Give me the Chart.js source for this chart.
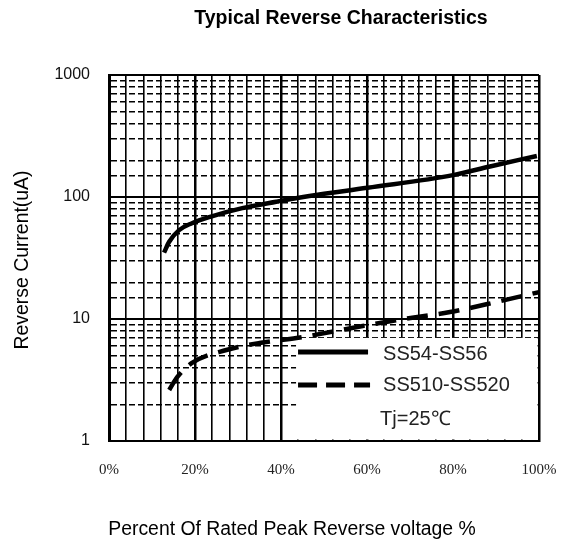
<!DOCTYPE html>
<html>
<head>
<meta charset="utf-8">
<script src="https://cdn.jsdelivr.net/npm/chart.js@4"></script>
<style>
  html, body { margin: 0; padding: 0; background: #fff; }
  #wrap { width: 563px; height: 542px; }
</style>
</head>
<body>
<div id="wrap"><canvas id="chart" width="563" height="542"></canvas></div>
<script>
/* Typical Reverse Characteristics — log current vs % rated voltage */

const seriesNames = ['SS54-SS56', 'SS510-SS520'];

/* SS54-SS56 (solid) */
const pctSolid = [12.8, 14, 16.3, 19.3, 23.3, 31, 38.9, 46.6, 60.1, 80, 88.6, 99.5];
const valSolid = [35, 43, 53.5, 61, 68.5, 81, 91.5, 102, 119, 151, 178, 217];

/* SS510-SS520 (dashed) */
const pctDash = [14, 15.9, 19.3, 27.3, 35, 43.6, 59, 66.9, 79.3, 90.2, 100];
const valDash = [2.62, 3.35, 4.36, 5.57, 6.36, 6.98, 8.77, 9.8, 11.4, 13.8, 16.6];

const yDecades = [1, 10, 100, 1000];
const xLabelTicks = [0, 20, 40, 60, 80, 100];

const SANS = "'Liberation Sans', Arial, sans-serif";
const SERIF = "'Liberation Serif', 'Times New Roman', serif";

function isDecade(v) {
  const l = Math.log10(v);
  return Math.abs(l - Math.round(l)) < 1e-6;
}

function pts(xs, ys) { return xs.map((x, i) => ({ x, y: ys[i] })); }

/* legend box corner, in data units */
const boxPct = 43.5, boxVal = 7.0;

/* Titles and the in-plot legend box */
const decorPlugin = {
  id: 'decor',
  beforeDatasetsDraw(chart) {
    // white box that hides the grid in the lower right
    const a = chart.chartArea;
    const bx = chart.scales.x.getPixelForValue(boxPct);
    const by = chart.scales.y.getPixelForValue(boxVal);
    const c = chart.ctx;
    c.save();
    c.fillStyle = '#fff';
    c.fillRect(bx, by, a.right - 1.5 - bx, a.bottom - 1.5 - by);
    c.restore();
  },
  afterDraw(chart) {
    const c = chart.ctx;
    const bx = chart.scales.x.getPixelForValue(boxPct);
    const by = chart.scales.y.getPixelForValue(boxVal);
    c.save();

    c.strokeStyle = '#000';
    c.lineCap = 'butt';
    c.lineWidth = 5;
    c.setLineDash([]);
    c.beginPath(); c.moveTo(bx + 2, by + 14); c.lineTo(bx + 72, by + 14); c.stroke();
    c.setLineDash([19, 9]);
    c.beginPath(); c.moveTo(bx + 2, by + 47); c.lineTo(bx + 74, by + 47); c.stroke();
    c.setLineDash([]);

    c.fillStyle = '#222';
    c.font = '20px ' + SANS;
    c.textBaseline = 'middle';
    c.textAlign = 'left';
    c.fillText(seriesNames[0], bx + 87, by + 17);
    c.fillText(seriesNames[1], bx + 87, by + 48);
    c.fillText('Tj=25\u2103', bx + 84, by + 82);

    // chart title
    c.fillStyle = '#000';
    c.textAlign = 'center';
    c.font = 'bold 19.5px ' + SANS;
    c.fillText('Typical Reverse Characteristics', 341, 19);

    // x axis title
    c.font = '19.4px ' + SANS;
    c.fillText('Percent Of Rated Peak Reverse voltage %', 292, 530);

    // y axis title
    c.translate(23, 260);
    c.rotate(-Math.PI / 2);
    c.fillText('Reverse Current(uA)', 0, 0);
    c.restore();
  }
};

new Chart(document.getElementById('chart'), {
  type: 'line',
  data: {
    datasets: [
      {
        label: seriesNames[0],
        data: pts(pctSolid, valSolid),
        borderColor: '#000',
        borderWidth: 4.5,
        pointRadius: 0,
        cubicInterpolationMode: 'monotone',
        fill: false
      },
      {
        label: seriesNames[1],
        data: pts(pctDash, valDash),
        borderColor: '#000',
        borderWidth: 4.5,
        borderDash: [21, 11],
        pointRadius: 0,
        cubicInterpolationMode: 'monotone',
        fill: false
      }
    ]
  },
  options: {
    responsive: false,
    animation: false,
    layout: { padding: { top: 75, right: 24, left: 0, bottom: 0 } },
    plugins: {
      legend: { display: false },
      title: { display: false },
      tooltip: { enabled: false }
    },
    scales: {
      x: {
        type: 'linear',
        min: 0, max: 100,
        afterFit: s => { s.height = 101; s.paddingLeft = 0; s.paddingRight = 0; },
        ticks: {
          stepSize: 4,
          autoSkip: false,
          maxRotation: 0,
          padding: 20,
          color: '#222',
          font: { family: SERIF, size: 15 },
          callback: v => xLabelTicks.includes(v) ? v + '%' : ''
        },
        grid: {
          drawTicks: false,
          color: '#000',
          lineWidth: ctx => (ctx.tick && ctx.tick.value % 20 === 0) ? 2.5 : 1.6
        },
        border: { display: true, color: '#000', width: 2 }
      },
      y: {
        type: 'logarithmic',
        min: 1, max: 1000,
        afterFit: s => { s.width = 109; s.paddingTop = 0; s.paddingBottom = 0; },
        ticks: {
          autoSkip: false,
          padding: 19,
          color: '#111',
          font: { family: SANS, size: 16 },
          callback: v => (isDecade(v) && yDecades.includes(Math.round(v))) ? String(Math.round(v)) : ''
        },
        grid: {
          drawTicks: false,
          color: '#000',
          lineWidth: ctx => (ctx.tick && isDecade(ctx.tick.value)) ? 2 : 1.5
        },
        border: {
          display: true,
          color: '#000',
          width: 3,
          dash: ctx => (ctx.tick && !isDecade(ctx.tick.value)) ? [6, 3] : []
        }
      }
    }
  },
  plugins: [decorPlugin]
});
</script>
</body>
</html>
